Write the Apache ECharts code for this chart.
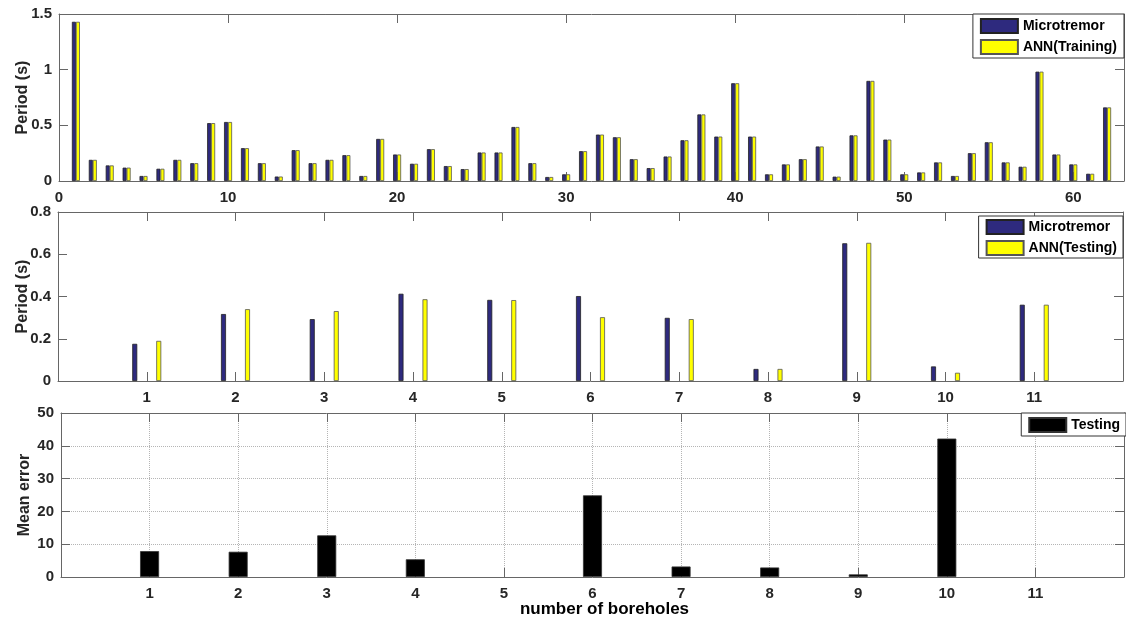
<!DOCTYPE html>
<html>
<head>
<meta charset="utf-8">
<script src="https://cdn.jsdelivr.net/npm/echarts@6/dist/echarts.min.js"></script>
<style>
html,body{margin:0;padding:0;background:#fff;}
#chart{width:1126px;height:620px;}
</style>
</head>
<body>
<div id="chart"></div>
<script>
// ---- Data ----
const trainMicro = [1.43,0.19,0.14,0.12,0.045,0.11,0.19,0.16,0.52,0.53,0.295,0.16,0.04,0.277,0.16,0.19,0.232,0.045,0.378,0.238,0.155,0.286,0.134,0.107,0.256,0.256,0.485,0.16,0.036,0.06,0.268,0.417,0.393,0.196,0.116,0.22,0.366,0.598,0.399,0.878,0.399,0.06,0.149,0.196,0.31,0.039,0.41,0.899,0.372,0.06,0.077,0.167,0.045,0.25,0.348,0.167,0.128,0.982,0.238,0.149,0.065,0.661];
const trainANN   = [1.43,0.19,0.14,0.12,0.045,0.11,0.19,0.16,0.52,0.53,0.295,0.16,0.04,0.277,0.16,0.19,0.232,0.045,0.378,0.238,0.155,0.286,0.134,0.107,0.256,0.256,0.485,0.16,0.036,0.06,0.268,0.417,0.393,0.196,0.116,0.22,0.366,0.598,0.399,0.878,0.399,0.06,0.149,0.196,0.31,0.039,0.41,0.899,0.372,0.06,0.077,0.167,0.045,0.25,0.348,0.167,0.128,0.982,0.238,0.149,0.065,0.661];
const testBoreholes = [1,2,3,4,5,6,7,8,9,10,11];
const testMicro = [0.176,0.317,0.293,0.413,0.384,0.402,0.299,0.057,0.652,0.069,0.361];
const testANN   = [0.19,0.34,0.331,0.387,0.383,0.302,0.293,0.057,0.654,0.039,0.361];
const meanError = [7.9,7.7,12.7,5.4,0,24.9,3.2,2.9,0.8,42.2,0];

const trainIdx = trainMicro.map((v,i)=>i+1);
// zero-height bars are drawn without an outline (nothing visible in the reference)
const pairs = (xs, ys) => ys.map((v,i)=> v === 0 ? {value:[xs[i], v], itemStyle:{borderWidth:0}} : [xs[i], v]);

const FONT = '"Liberation Sans", Arial, sans-serif';
const AX = '#666';
const LBL = {color:'#262626', fontWeight:'bold', fontSize:15, fontFamily:FONT};
const NAV = '#2e2a7e';
const YEL = '#ffff00';
const TICK = {show:true, inside:true, length:9, lineStyle:{color:AX}};

function mainX(grid, min, max, interval, hideEnds, split){
  return {
    type:'value', gridIndex:grid, position:'bottom', min:min, max:max, interval:interval,
    axisLine:{show:true, onZero:false, lineStyle:{color:AX}},
    axisTick:TICK,
    axisLabel:Object.assign({margin:9,
      formatter: v => (hideEnds && (v===min || v===max)) ? '' : ((v % interval !== 0) ? '' : String(v))}, LBL),
    splitLine:{show:!!split, lineStyle:{type:'dotted', color:'#b5b5b5'}}
  };
}
function mirrorX(grid, min, max, interval){
  return {
    type:'value', gridIndex:grid, position:'top', min:min, max:max, interval:interval,
    axisLine:{show:true, onZero:false, lineStyle:{color:AX}},
    axisTick:TICK,
    axisLabel:{show:false}, splitLine:{show:false}
  };
}
function mainY(grid, max, interval, name, gap, split){
  return {
    type:'value', gridIndex:grid, position:'left', min:0, max:max, interval:interval,
    name:name, nameLocation:'middle', nameGap:gap, nameRotate:90, nameMoveOverlap:false,
    nameTextStyle:{color:'#262626', fontWeight:'bold', fontSize:16, fontFamily:FONT},
    axisLine:{show:true, onZero:false, lineStyle:{color:AX}},
    axisTick:TICK,
    axisLabel:Object.assign({margin:7}, LBL),
    splitLine:{show:!!split, lineStyle:{type:'dotted', color:'#b5b5b5'}}
  };
}
function mirrorY(grid, max, interval){
  return {
    type:'value', gridIndex:grid, position:'right', min:0, max:max, interval:interval,
    axisLine:{show:true, onZero:false, lineStyle:{color:AX}},
    axisTick:TICK,
    axisLabel:{show:false}, splitLine:{show:false}
  };
}

const bottomX = mainX(2, 0, 12, 1, true, true);
bottomX.name = 'number of boreholes';
bottomX.nameLocation = 'middle';
bottomX.nameGap = 24;
bottomX.nameMoveOverlap = false;
bottomX.nameTextStyle = {color:'#000', fontWeight:'bold', fontSize:17, fontFamily:FONT, padding:[0,0,0,24]};

const legendBase = {
  orient:'vertical', icon:'rect', itemWidth:37, itemHeight:14, itemGap:5,
  backgroundColor:'#fff', borderColor:'#333', borderWidth:1, borderRadius:0,
  textStyle:{color:'#000', fontWeight:'bold', fontSize:14, fontFamily:FONT},
  selectedMode:false
};

const option = {
  animation:false,
  backgroundColor:'#fff',
  grid:[
    {left:59, right:2, top:14, height:167, outerBoundsMode:'none'},
    {left:58, right:3, top:212, height:169, outerBoundsMode:'none'},
    {left:61, right:2, top:413, height:164, outerBoundsMode:'none'}
  ],
  xAxis:[
    mainX(0, 0, 63, 10, false, false),
    mirrorX(0, 0, 63, 10),
    mainX(1, 0, 12, 1, true, false),
    mirrorX(1, 0, 12, 1),
    bottomX,
    mirrorX(2, 0, 12, 1)
  ],
  yAxis:[
    mainY(0, 1.5, 0.5, 'Period (s)', 28, false),
    mirrorY(0, 1.5, 0.5),
    mainY(1, 0.8, 0.2, 'Period (s)', 27, false),
    mirrorY(1, 0.8, 0.2),
    mainY(2, 50, 10, 'Mean error', 28, true),
    mirrorY(2, 50, 10)
  ],
  legend:[
    Object.assign({}, legendBase, {data:['Microtremor','ANN(Training)'], right:2, top:14, padding:[4,7,3,7]}),
    Object.assign({}, legendBase, {data:['Microtremor ','ANN(Testing)'], right:3, top:216, padding:[3,6,2,7]}),
    Object.assign({}, legendBase, {data:['Testing'], right:0, top:413, padding:[4,6,3,7]})
  ],
  series:[
    {name:'Microtremor', type:'bar', xAxisIndex:0, yAxisIndex:0, data:pairs(trainIdx, trainMicro),
     barWidth:4, barGap:'0%', itemStyle:{color:NAV, borderColor:'#222', borderWidth:0.8}},
    {name:'ANN(Training)', type:'bar', xAxisIndex:0, yAxisIndex:0, data:pairs(trainIdx, trainANN),
     barWidth:4, barGap:'0%', itemStyle:{color:YEL, borderColor:'#555', borderWidth:0.8}},
    {name:'Microtremor ', type:'bar', xAxisIndex:2, yAxisIndex:2, data:pairs(testBoreholes, testMicro),
     barWidth:5, barGap:'380%', itemStyle:{color:NAV, borderColor:'#222', borderWidth:0.8}},
    {name:'ANN(Testing)', type:'bar', xAxisIndex:2, yAxisIndex:2, data:pairs(testBoreholes, testANN),
     barWidth:5, barGap:'380%', itemStyle:{color:YEL, borderColor:'#555', borderWidth:0.8}},
    {name:'Testing', type:'bar', xAxisIndex:4, yAxisIndex:4, data:pairs(testBoreholes, meanError),
     barWidth:19, itemStyle:{color:'#000', borderColor:'#333', borderWidth:0.8}}
  ]
};

const chart = echarts.init(document.getElementById('chart'), null, {renderer:'canvas'});
chart.setOption(option);
</script>
</body>
</html>
